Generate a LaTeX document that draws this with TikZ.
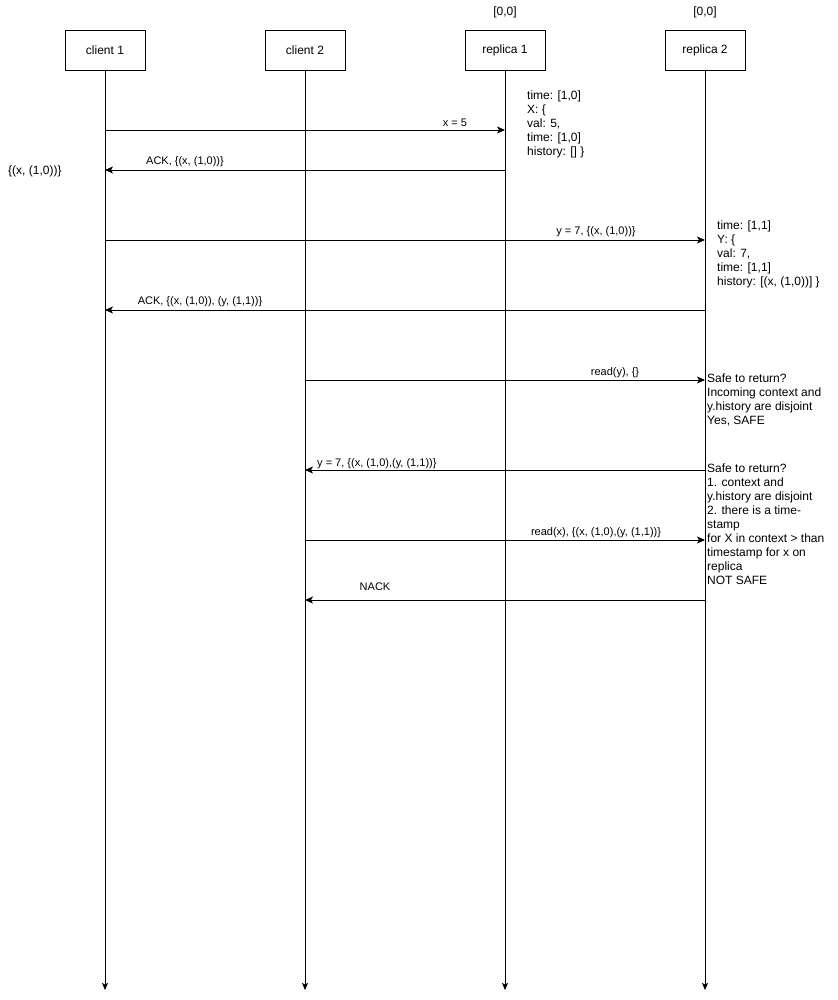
\documentclass[tikz,border=0pt]{standalone}
\usepackage{fontspec}
\setmainfont{Liberation Sans}
\usetikzlibrary{arrows.meta}
\begin{document}
\begin{tikzpicture}[x=1pt,y=-1pt,
  actor/.style={draw,line width=0.9pt,minimum width=80pt,minimum height=40pt,inner sep=0pt,font=\fontsize{12}{14}\selectfont},
  life/.style={line width=0.9pt,-{Stealth[length=7pt,width=6pt,inset=1.5pt]}},
  msg/.style={line width=0.9pt,-{Stealth[length=8pt,width=7pt,inset=2pt]}},
  lbl/.style={anchor=base,inner sep=0pt,font=\fontsize{11}{13}\selectfont},
  note/.style={anchor=north west,inner sep=0pt,align=left,font=\fontsize{12}{14}\selectfont},
  plain/.style={inner sep=0pt,font=\fontsize{12}{14}\selectfont}]
\useasboundingbox (0,0) rectangle (837,1000);
% actors
\node[actor] (c1) at (105,50) {client 1};
\node[actor] (c2) at (305,50) {client 2};
\node[actor] (r1) at (505,50) {replica 1};
\node[actor] (r2) at (705,50) {replica 2};
\node[plain] (t1) at (505,12) {[0,0]};
\node[plain] (t2) at (705,12) {[0,0]};
% lifeline ends
\coordinate (c1e) at (105,990);
\coordinate (c2e) at (305,990);
\coordinate (r1e) at (505,990);
\coordinate (r2e) at (705,990);
\draw[life] (c1) -- (c1e);
\draw[life] (c2) -- (c2e);
\draw[life] (r1) -- (r1e);
\draw[life] (r2) -- (r2e);
% message end points
\coordinate (m1a) at (105,130); \coordinate (m1b) at (505,130);
\coordinate (m2a) at (505,170); \coordinate (m2b) at (105,170);
\coordinate (m3a) at (105,240); \coordinate (m3b) at (705,240);
\coordinate (m4a) at (705,310); \coordinate (m4b) at (105,310);
\coordinate (m5a) at (305,380); \coordinate (m5b) at (705,380);
\coordinate (m6a) at (705,470); \coordinate (m6b) at (305,470);
\coordinate (m7a) at (305,540); \coordinate (m7b) at (705,540);
\coordinate (m8a) at (705,600); \coordinate (m8b) at (305,600);
\draw[msg] (m1a) -- (m1b);
\draw[msg] (m2a) -- (m2b);
\draw[msg] (m3a) -- (m3b);
\draw[msg] (m4a) -- (m4b);
\draw[msg] (m5a) -- (m5b);
\draw[msg] (m6a) -- (m6b);
\draw[msg] (m7a) -- (m7b);
\draw[msg] (m8a) -- (m8b);
% labels
\node[lbl] (l1) at (455,127) {x = 5};
\node[lbl] (l2) at (185,165) {ACK, \{(x, (1,0))\}};
\node[lbl] (l3) at (596,235) {y = 7, \{(x, (1,0))\}};
\node[lbl] (l4) at (200,304) {ACK, \{(x, (1,0)), (y, (1,1))\}};
\node[lbl] (l5) at (615,375) {read(y), \{\}};
\node[lbl,anchor=base west] (l6) at (317,466) {y = 7, \{(x, (1,0),(y, (1,1))\}};
\node[lbl] (l7) at (596,535) {read(x), \{(x, (1,0),(y, (1,1))\}};
\node[lbl] (l8) at (375,590) {NACK};
\node[plain,anchor=west] (ctx) at (8,171) {\{(x, (1,0))\}};
% notes
\node[note] (n1) at (527,91) {time: [1,0]\\X: \{\\val: 5,\\time: [1,0]\\history: [] \}};
\node[note] (n2) at (717,221) {time: [1,1]\\Y: \{\\val: 7,\\time: [1,1]\\history: [(x, (1,0))] \}};
\node[note] (n3) at (707,374) {Safe to return?\\Incoming context and\\y.history are disjoint\\Yes, SAFE};
\node[note] (n4) at (707,464) {Safe to return?\\1. context and\\y.history are disjoint\\2. there is a time-\\stamp\\for X in context > than\\timestamp for x on\\replica\\NOT SAFE};
\end{tikzpicture}
\end{document}
